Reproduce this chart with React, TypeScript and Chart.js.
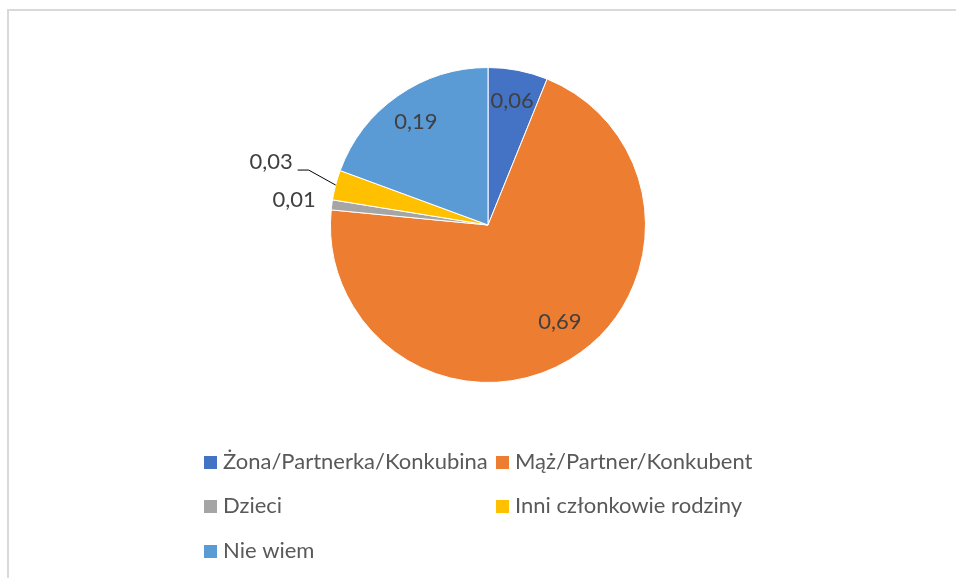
import React, { useEffect, useRef } from "react";
import { Chart, registerables } from "chart.js";

Chart.register(...registerables);

const categories = [
  "Żona/Partnerka/Konkubina",
  "Mąż/Partner/Konkubent",
  "Dzieci",
  "Inni członkowie rodziny",
  "Nie wiem",
];
const values = [0.06, 0.69, 0.01, 0.03, 0.19];
const valueLabels = ["0,06", "0,69", "0,01", "0,03", "0,19"];
const colors = ["#4472C4", "#ED7D31", "#A5A5A5", "#FFC000", "#5B9BD5"];

const FONT = "Lato, 'Open Sans', sans-serif";
const TEXT = "#595959";

const framePlugin = {
  id: "frame",
  beforeDraw(chart: any) {
    const ctx = chart.ctx;
    ctx.save();
    ctx.fillStyle = "#ffffff";
    ctx.fillRect(0, 0, chart.width, chart.height);
    ctx.fillStyle = "#d9d9d9";
    ctx.fillRect(7, 9, chart.width - 7, 2);
    ctx.fillRect(7, 9, 2, chart.height - 9);
    ctx.restore();
  },
};

const labelPlugin = {
  id: "valueLabels",
  afterDatasetsDraw(chart: any) {
    const ctx = chart.ctx;
    const meta = chart.getDatasetMeta(0);
    ctx.save();
    ctx.font = `22px ${FONT}`;
    ctx.fillStyle = "#404040";
    ctx.textBaseline = "middle";
    meta.data.forEach((arc: any, i: number) => {
      const { x, y, startAngle, endAngle, outerRadius } = arc.getProps(
        ["x", "y", "startAngle", "endAngle", "outerRadius"],
        true
      );
      let mid = (startAngle + endAngle) / 2;
      if (i === 1) mid -= 0.094;
      const cos = Math.cos(mid);
      const sin = Math.sin(mid);
      const v = values[i];
      if (v >= 0.05) {
        const r = outerRadius * (i === 1 ? 0.766 : 0.8);
        ctx.textAlign = "center";
        ctx.fillText(valueLabels[i], x + cos * r, y + sin * r);
      } else if (i === 2) {
        const r = outerRadius + 38;
        ctx.textAlign = "center";
        ctx.fillText(valueLabels[i], x + cos * r, y + sin * r);
      } else {
        const ex = x + cos * outerRadius;
        const ey = y + sin * outerRadius;
        const bx = ex - 27;
        const by = ey - 15;
        const tx = bx - 11;
        ctx.strokeStyle = "#000000";
        ctx.lineWidth = 1;
        ctx.beginPath();
        ctx.moveTo(ex, ey);
        ctx.lineTo(bx, by);
        ctx.lineTo(tx, by);
        ctx.stroke();
        ctx.textAlign = "right";
        ctx.fillText(valueLabels[i], tx - 5, by - 8);
      }
    });
    ctx.restore();
  },
};

const legendPlugin = {
  id: "gridLegend",
  afterDraw(chart: any) {
    const ctx = chart.ctx;
    const colX = [204, 496];
    const rowY = [462, 506, 551];
    ctx.save();
    ctx.font = `22px ${FONT}`;
    ctx.textBaseline = "middle";
    ctx.textAlign = "left";
    categories.forEach((name, i) => {
      const cx = colX[i % 2];
      const cy = rowY[Math.floor(i / 2)];
      ctx.fillStyle = colors[i];
      ctx.fillRect(cx, cy - 6, 13, 13);
      ctx.fillStyle = TEXT;
      ctx.fillText(name, cx + 19, cy);
    });
    ctx.restore();
  },
};

export default function App() {
  const ref = useRef<HTMLCanvasElement | null>(null);
  useEffect(() => {
    document.body.style.margin = "0";
    if (!ref.current) return;
    const chart = new Chart(ref.current, {
      type: "pie",
      data: {
        labels: categories,
        datasets: [
          {
            data: values,
            backgroundColor: colors,
            borderColor: "#ffffff",
            borderWidth: 1,
          },
        ],
      },
      options: {
        responsive: false,
        animation: false,
        layout: { padding: { left: 330, right: 310, top: 67, bottom: 195 } },
        plugins: {
          legend: { display: false },
          tooltip: { enabled: false },
        },
      },
      plugins: [framePlugin, labelPlugin, legendPlugin],
    });
    return () => chart.destroy();
  }, []);
  return (
    <div style={{ position: "absolute", left: 0, top: 0, width: 956, height: 578 }}>
      <canvas ref={ref} width={956} height={578} style={{ display: "block", width: 956, height: 578 }} />
    </div>
  );
}
